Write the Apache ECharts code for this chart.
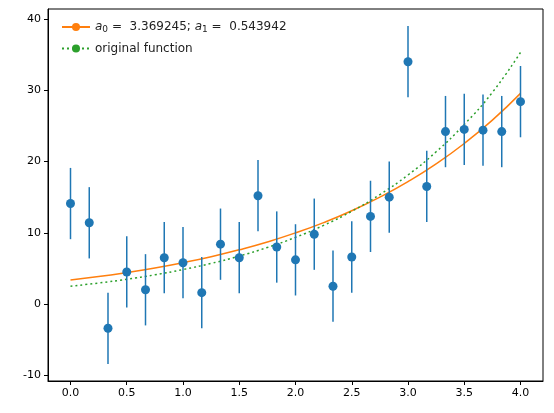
<!DOCTYPE html>
<html><head><meta charset="utf-8">
<script src="https://cdn.jsdelivr.net/npm/echarts@6/dist/echarts.min.js"></script>
<style>html,body{margin:0;padding:0;background:#fff}#c{width:554px;height:413px}</style>
</head><body><div id="c"></div>
<script>
// measured points (x, y, error)
var xs = [0, 0.1667, 0.3333, 0.5, 0.6667, 0.8333, 1, 1.1667, 1.3333, 1.5, 1.6667, 1.8333, 2,
	2.1667, 2.3333, 2.5, 2.6667, 2.8333, 3, 3.1667, 3.3333, 3.5, 3.6667, 3.8333, 4];
var ys = [14.1, 11.4, -3.4, 4.5, 2.0, 6.5, 5.8, 1.6, 8.4, 6.5, 15.2, 8.0, 6.2,
	9.8, 2.5, 6.6, 12.3, 15.0, 34.0, 16.5, 24.2, 24.5, 24.4, 24.2, 28.4];
var errs = [5, 5, 5, 5, 5, 5, 5, 5, 5, 5, 5, 5, 5, 5, 5, 5, 5, 5, 5, 5, 5, 5, 5, 5, 5];
// curves
var curveX = [0, 0.25, 0.5, 0.75, 1, 1.25, 1.5, 1.75, 2, 2.25, 2.5, 2.75, 3, 3.25, 3.5, 3.75, 4];
var fitY = [3.37, 3.85, 4.42, 5.06, 5.80, 6.64, 7.61, 8.71, 9.98, 11.43, 13.09, 15.0, 17.18, 19.67, 22.53, 25.8, 29.56];
var origY = [2.5, 2.95, 3.48, 4.1, 4.84, 5.7, 6.73, 7.94, 9.36, 11.04, 13.02, 15.36, 18.11, 21.36, 25.2, 29.7, 35.3];
var xTicks = [0, 0.5, 1, 1.5, 2, 2.5, 3, 3.5, 4];
var yTicks = [-10, 0, 10, 20, 30, 40];

function pairs(a, b) { var r = []; for (var i = 0; i < a.length; i++) r.push([a[i], b[i]]); return r; }
var errData = [];
for (var i = 0; i < xs.length; i++) errData.push([xs[i], ys[i] - errs[i], ys[i] + errs[i]]);

var chart = echarts.init(document.getElementById('c'));
var font = 'DejaVu Sans';
chart.setOption({
	animation: false,
	textStyle: { fontFamily: font },
	grid: { left: 48, right: 11, top: 9, bottom: 32, show: true, borderColor: '#000', borderWidth: 1 },
	legend: {
		left: 56, top: 16, orient: 'vertical', itemGap: 8, itemWidth: 28, itemHeight: 10,
		textStyle: { fontSize: 12, color: '#222', rich: {
			i: { fontStyle: 'italic', fontSize: 12 },
			s: { fontSize: 9, verticalAlign: 'bottom', padding: [6, 0, 0, 0] } } },
		formatter: function (n) {
			if (n === 'fit') return '{i|a}{s|0} =  3.369245; {i|a}{s|1} =  0.543942';
			return n;
		},
		data: ['fit', 'original function']
	},
	xAxis: {
		type: 'value', min: -0.2, max: 4.2, splitLine: { show: false },
		axisLine: { show: true, onZero: false, lineStyle: { color: '#000' } },
		axisTick: { show: true, inside: false, customValues: xTicks, length: 4, lineStyle: { color: '#000' } },
		axisLabel: { customValues: xTicks, color: '#000', fontSize: 11, margin: 7,
			formatter: function (v) { return v.toFixed(1); } }
	},
	yAxis: {
		type: 'value', min: -10.8, max: 41.4, splitLine: { show: false },
		axisLine: { show: true, onZero: false, lineStyle: { color: '#000' } },
		axisTick: { show: true, inside: false, customValues: yTicks, length: 4, lineStyle: { color: '#000' } },
		axisLabel: { customValues: yTicks, color: '#000', fontSize: 11, margin: 7 }
	},
	series: [
		{
			name: 'fit', type: 'line', data: pairs(curveX, fitY), showSymbol: false, symbol: 'none', smooth: true,
			lineStyle: { color: '#ff7f0e', width: 1.5 }, itemStyle: { color: '#ff7f0e' }, z: 3
		},
		{
			name: 'original function', type: 'line', data: pairs(curveX, origY), showSymbol: false, symbol: 'none', smooth: true,
			lineStyle: { color: '#2ca02c', width: 1.5, type: [2, 3] }, itemStyle: { color: '#2ca02c' }, z: 3
		},
		{
			type: 'custom', data: errData, z: 4,
			renderItem: function (params, api) {
				var p1 = api.coord([api.value(0), api.value(1)]);
				var p2 = api.coord([api.value(0), api.value(2)]);
				return { type: 'line', shape: { x1: p1[0], y1: p1[1], x2: p2[0], y2: p2[1] },
					style: { stroke: '#1f77b4', lineWidth: 1.5 } };
			}
		},
		{
			type: 'scatter', data: pairs(xs, ys), symbolSize: 9, z: 5,
			itemStyle: { color: '#1f77b4', opacity: 1 }
		}
	]
});
</script></body></html>
